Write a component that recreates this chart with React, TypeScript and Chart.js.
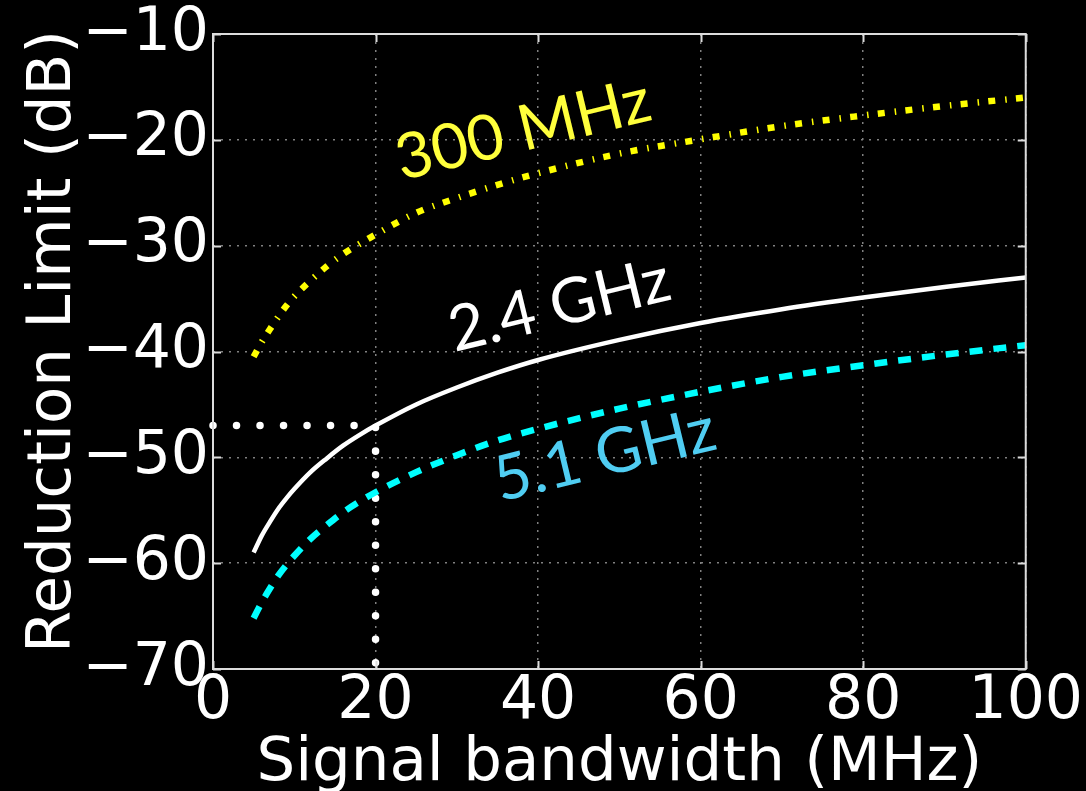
import React, { useEffect, useRef } from 'react';
import { Chart, registerables } from 'chart.js';

Chart.register(...registerables);

// Signal bandwidth (MHz)
const bandwidth = [5, 6, 7, 8, 9, 10, 12, 14, 16, 18, 20, 25, 30, 35, 40, 50, 60, 70, 80, 90, 100];
// Reduction limit (dB) for each carrier
const limit300MHz = [-40.5, -39.1, -37.9, -36.75, -35.7, -34.8, -33.3, -31.95, -30.8, -29.85, -28.95, -26.9, -25.5, -24.25, -23.15, -21.3, -19.95, -18.7, -17.7, -16.8, -16.0];
const limit24GHz = [-59.0, -57.4, -56.1, -54.9, -53.9, -53.0, -51.4, -50.1, -48.9, -47.9, -47.0, -45.0, -43.4, -42.0, -40.8, -38.9, -37.3, -36.0, -34.9, -33.9, -33.0];
const limit51GHz = [-65.2, -63.7, -62.4, -61.2, -60.2, -59.3, -57.7, -56.4, -55.2, -54.2, -53.3, -51.4, -49.8, -48.4, -47.3, -45.4, -43.8, -42.4, -41.3, -40.3, -39.4];

// Dotted guide at 20 MHz
const guideX = [0, 20, 20];
const guideY = [-47, -47, -70];

const xTickValues = [0, 20, 40, 60, 80, 100];
const yTickValues = [-70, -60, -50, -40, -30, -20, -10];

const xTitle = 'Signal bandwidth (MHz)';
const yTitle = 'Reduction Limit (dB)';

const curveLabels = ['300 MHz', '2.4 GHz', '5.1 GHz'];
const curveLabelX = [23.2, 29.7, 35.3];
const curveLabelY = [-23.85, -40.05, -54.2];
const curveLabelColors = ['#ffff3c', '#ffffff', '#50cdf2'];

const toPoints = (xs: number[], ys: number[]) => xs.map((x, i) => ({ x, y: ys[i] }));

const overlayPlugin = {
  id: 'overlay',
  afterDatasetsDraw(chart: any) {
    const { ctx, chartArea, scales } = chart;
    const { left, right, top, bottom } = chartArea;
    const xs = scales.x;
    const ys = scales.y;
    ctx.save();
    // frame
    ctx.strokeStyle = '#dcdcdc';
    ctx.lineWidth = 2;
    ctx.setLineDash([]);
    ctx.strokeRect(left, top, right - left, bottom - top);
    // inward ticks on all sides
    const tl = 8;
    ctx.beginPath();
    xTickValues.forEach((v) => {
      const px = Math.round(xs.getPixelForValue(v)) + 0.5;
      ctx.moveTo(px, bottom);
      ctx.lineTo(px, bottom - tl);
      ctx.moveTo(px, top);
      ctx.lineTo(px, top + tl);
    });
    yTickValues.forEach((v) => {
      const py = Math.round(ys.getPixelForValue(v)) + 0.5;
      ctx.moveTo(left, py);
      ctx.lineTo(left + tl, py);
      ctx.moveTo(right, py);
      ctx.lineTo(right - tl, py);
    });
    ctx.stroke();

    // curve labels
    curveLabels.forEach((t, i) => {
      const px = xs.getPixelForValue(curveLabelX[i]);
      const py = ys.getPixelForValue(curveLabelY[i]);
      ctx.save();
      ctx.translate(px, py);
      ctx.rotate((-13.6 * Math.PI) / 180);
      ctx.font = '63px Lato';
      ctx.fillStyle = curveLabelColors[i];
      ctx.textAlign = 'left';
      ctx.textBaseline = 'alphabetic';
      ctx.fillText(t, 0, 0);
      ctx.restore();
    });

    // axis titles
    ctx.fillStyle = '#ffffff';
    ctx.font = '61px "DejaVu Sans"';
    ctx.textAlign = 'center';
    ctx.textBaseline = 'alphabetic';
    ctx.fillText(xTitle, (left + right) / 2, 780);
    ctx.save();
    ctx.translate(70, (top + bottom) / 2 - 10);
    ctx.rotate(-Math.PI / 2);
    ctx.fillText(yTitle, 0, 0);
    ctx.restore();
    ctx.restore();
  },
};

export default function App() {
  const canvasRef = useRef<HTMLCanvasElement | null>(null);

  useEffect(() => {
    const canvas = canvasRef.current;
    if (!canvas) return;
    const tickFont = { family: '"DejaVu Sans"', size: 60, lineHeight: 1 };
    const chart = new Chart(canvas, {
      type: 'line',
      data: {
        datasets: [
          {
            label: '300 MHz',
            data: toPoints(bandwidth, limit300MHz),
            borderColor: '#ffff00',
            borderWidth: 6.5,
            borderDash: [7, 10, 1.5, 9.3],
            borderCapStyle: 'butt',
            pointRadius: 0,
            cubicInterpolationMode: 'monotone',
            clip: false,
          },
          {
            label: '2.4 GHz',
            data: toPoints(bandwidth, limit24GHz),
            borderColor: '#ffffff',
            borderWidth: 4.5,
            pointRadius: 0,
            cubicInterpolationMode: 'monotone',
            clip: false,
          },
          {
            label: '5.1 GHz',
            data: toPoints(bandwidth, limit51GHz),
            borderColor: '#00ffff',
            borderWidth: 6.5,
            borderDash: [13, 11],
            borderCapStyle: 'butt',
            pointRadius: 0,
            cubicInterpolationMode: 'monotone',
            clip: false,
          },
          {
            label: 'guide',
            data: toPoints(guideX, guideY),
            borderColor: '#ffffff',
            borderWidth: 7.5,
            borderDash: [0.01, 23.5],
            borderCapStyle: 'round',
            pointRadius: 0,
            tension: 0,
            clip: false,
          },
        ],
      },
      options: {
        animation: false,
        responsive: false,
        devicePixelRatio: 1,
        layout: { padding: { top: 32, right: 59, left: 0, bottom: 0 } },
        plugins: {
          legend: { display: false },
          tooltip: { enabled: false },
        },
        scales: {
          x: {
            type: 'linear',
            min: 0,
            max: 100,
            afterBuildTicks: (scale: any) => {
              scale.ticks = xTickValues.map((v) => ({ value: v }));
            },
            afterFit: (scale: any) => {
              scale.height = 122;
            },
            ticks: {
              color: '#ffffff',
              font: tickFont,
              padding: 3,
              autoSkip: false,
              maxRotation: 0,
              callback: (v: any) => String(v),
            },
            grid: { color: '#808080', lineWidth: 1.5, drawTicks: false },
            border: { display: false, dash: [2, 6] },
          },
          y: {
            type: 'linear',
            min: -70,
            max: -10,
            afterBuildTicks: (scale: any) => {
              scale.ticks = yTickValues.map((v) => ({ value: v }));
            },
            afterFit: (scale: any) => {
              scale.width = 213;
            },
            ticks: {
              color: '#ffffff',
              font: tickFont,
              padding: 4,
              autoSkip: false,
              callback: (v: any) => String(v).replace('-', '\u2212'),
            },
            grid: { color: '#808080', lineWidth: 1.5, drawTicks: false },
            border: { display: false, dash: [2, 6] },
          },
        },
      },
      plugins: [overlayPlugin],
    } as any);
    return () => chart.destroy();
  }, []);

  return (
    <div
      style={{
        position: 'fixed',
        left: 0,
        top: 0,
        width: 1086,
        height: 791,
        background: '#000000',
        overflow: 'hidden',
      }}
    >
      <canvas ref={canvasRef} width={1086} height={791} style={{ display: 'block' }} />
    </div>
  );
}
